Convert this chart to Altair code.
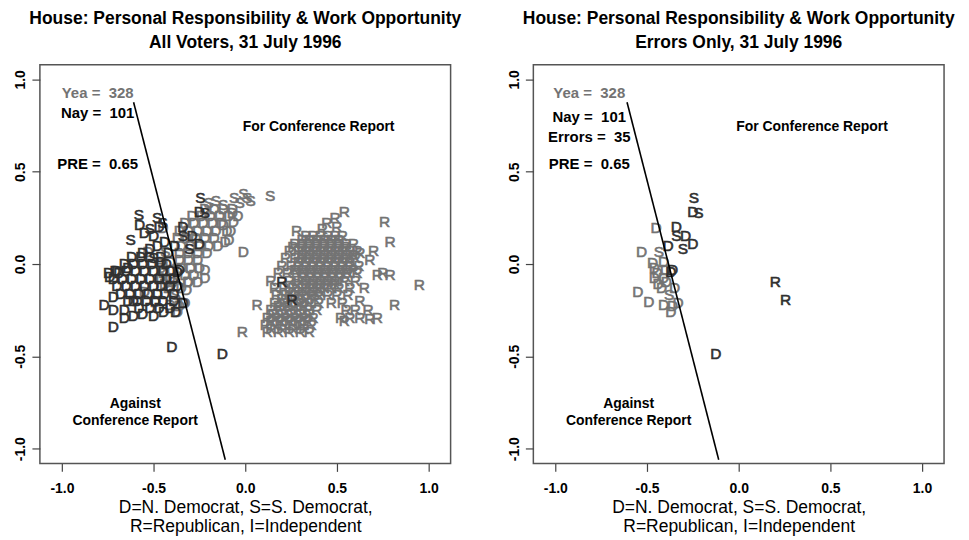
import altair as alt
import pandas as pd

FONT = "Liberation Sans"
GRAY = "#737373"
DARK = "#303030"

TITLE_LINE1 = "House: Personal Responsibility & Work Opportunity"
LEFT_SUB = "All Voters, 31 July 1996"
RIGHT_SUB = "Errors Only, 31 July 1996"
X_TITLE = ["D=N. Democrat, S=S. Democrat,", "R=Republican, I=Independent"]
TICKS = [-1.0, -0.5, 0.0, 0.5, 1.0]
X_DOMAIN = [-1.12, 1.12]
Y_DOMAIN = [-1.08, 1.08]

# cutting line end points
CUT_X = [-0.609, -0.109]
CUT_Y = [0.876, -1.06]

# ---- errors (shown in both panels) ----
ERR_REP_NAY = [(0.20, -0.10), (0.255, -0.195)]
ERR_DEM_NAY = [(-0.25, 0.28), (-0.34, 0.20), (-0.29, 0.15), (-0.25, 0.11), (-0.385, 0.10),
               (-0.37, -0.045), (-0.36, -0.035), (-0.125, -0.49)]
ERR_SDEM_NAY = [(-0.245, 0.36), (-0.22, 0.275), (-0.34, 0.15), (-0.305, 0.08)]
ERR_DEM_YEA = [(-0.45, 0.195), (-0.53, 0.065), (-0.47, 0.005), (-0.41, 0.01), (-0.46, -0.075),
               (-0.41, -0.075), (-0.42, -0.13), (-0.55, -0.15), (-0.49, -0.205), (-0.41, -0.22),
               (-0.37, -0.26), (-0.33, -0.21), (-0.44, -0.11), (-0.46, -0.02), (-0.40, -0.03),
               (-0.445, -0.05), (-0.395, -0.10), (-0.36, -0.23), (-0.35, -0.13)]
ERR_SDEM_YEA = [(-0.435, 0.065), (-0.38, -0.17)]

# ---- correctly classified voters (left panel only) ----
DEM_NAY = [(-0.576, 0.21), (-0.55, 0.17), (-0.50, 0.15), (-0.47, 0.20), (-0.48, 0.10),
           (-0.52, 0.08), (-0.44, 0.12), (-0.56, 0.06), (-0.42, 0.06), (-0.46, 0.01),
           (-0.745, -0.05), (-0.69, -0.05), (-0.64, -0.02), (-0.77, -0.22), (-0.72, -0.25),
           (-0.66, -0.25), (-0.61, -0.28), (-0.72, -0.34), (-0.61, -0.20), (-0.445, -0.26),
           (-0.38, -0.26), (-0.34, -0.21), (-0.40, -0.45), (-0.74, -0.07), (-0.71, -0.04),
           (-0.72, -0.18), (-0.66, -0.29), (-0.56, -0.27), (-0.50, -0.28)]
DEM_NAY_ROWS = [
    (0.04, [-0.62, -0.57, -0.52, -0.46]),
    (0.00, [-0.66, -0.61, -0.56, -0.51, -0.43]),
    (-0.04, [-0.70, -0.65, -0.60, -0.55, -0.50, -0.45, -0.41]),
    (-0.08, [-0.72, -0.67, -0.62, -0.57, -0.52, -0.47, -0.43, -0.39]),
    (-0.12, [-0.70, -0.65, -0.60, -0.55, -0.50, -0.46, -0.41, -0.37]),
    (-0.16, [-0.68, -0.63, -0.58, -0.53, -0.48, -0.44, -0.39]),
    (-0.20, [-0.64, -0.59, -0.54, -0.49, -0.45, -0.39]),
    (-0.24, [-0.58, -0.52, -0.47, -0.41]),
]
SDEM_NAY = [(-0.58, 0.265), (-0.48, 0.25), (-0.625, 0.13), (-0.52, 0.19), (-0.45, 0.22),
            (-0.50, 0.03)]

DEM_YEA = [(-0.065, 0.23), (-0.11, 0.12), (-0.22, -0.075), (-0.315, -0.10), (-0.01, 0.065),
           (-0.09, 0.13), (-0.07, 0.275), (-0.22, -0.03), (-0.12, 0.21), (-0.08, 0.18)]
DEM_YEA_ROWS = [
    (0.30, [-0.22, -0.17, -0.12, -0.07]),
    (0.26, [-0.29, -0.24, -0.19, -0.14, -0.09, -0.04]),
    (0.22, [-0.33, -0.28, -0.23, -0.18, -0.13]),
    (0.18, [-0.36, -0.31, -0.26, -0.21, -0.16, -0.10]),
    (0.14, [-0.37, -0.32, -0.27, -0.22, -0.17]),
    (0.10, [-0.35, -0.30, -0.25, -0.20, -0.15]),
    (0.06, [-0.36, -0.31, -0.26, -0.21]),
    (0.02, [-0.36, -0.31, -0.26]),
    (-0.02, [-0.35, -0.30, -0.25]),
    (-0.06, [-0.33, -0.28]),
    (-0.10, [-0.31, -0.26]),
    (-0.14, [-0.32]),
]
SDEM_YEA = [(-0.16, 0.34), (-0.01, 0.38), (0.01, 0.36), (0.03, 0.34), (-0.03, 0.33),
            (0.136, 0.37), (-0.20, 0.33), (-0.06, 0.36), (-0.12, 0.32)]

REP_YEA = [(0.54, 0.28), (0.49, 0.25), (0.445, 0.22), (0.28, 0.18), (0.76, 0.23), (0.79, 0.12),
           (0.70, 0.07), (0.26, 0.09), (0.95, -0.115), (0.815, -0.22), (0.72, -0.06),
           (0.75, -0.05), (0.79, -0.06), (0.065, -0.22), (-0.016, -0.37), (0.54, -0.31),
           (0.625, -0.29), (0.68, -0.30), (0.72, -0.29), (0.68, 0.02), (0.625, 0.06),
           (0.65, -0.13), (0.625, -0.20), (0.67, -0.25), (0.50, 0.20), (0.42, 0.19)]
REP_YEA_ROWS = [
    (0.15, [0.33, 0.37, 0.41, 0.45, 0.49, 0.53]),
    (0.11, [0.27, 0.31, 0.35, 0.39, 0.43, 0.47, 0.51, 0.55, 0.59]),
    (0.07, [0.24, 0.29, 0.33, 0.37, 0.41, 0.45, 0.49, 0.53, 0.57, 0.61]),
    (0.03, [0.22, 0.27, 0.31, 0.35, 0.39, 0.43, 0.47, 0.51, 0.55, 0.60]),
    (-0.01, [0.20, 0.25, 0.29, 0.33, 0.37, 0.41, 0.45, 0.49, 0.53, 0.57, 0.62]),
    (-0.05, [0.18, 0.23, 0.28, 0.32, 0.36, 0.40, 0.44, 0.48, 0.52, 0.56, 0.61]),
    (-0.09, [0.14, 0.24, 0.29, 0.33, 0.37, 0.41, 0.45, 0.49, 0.54, 0.60]),
    (-0.13, [0.16, 0.21, 0.26, 0.31, 0.35, 0.39, 0.43, 0.47, 0.51, 0.57]),
    (-0.17, [0.17, 0.22, 0.27, 0.31, 0.36, 0.40, 0.45, 0.50, 0.56]),
    (-0.21, [0.16, 0.21, 0.30, 0.35, 0.40, 0.47, 0.53]),
    (-0.25, [0.14, 0.19, 0.24, 0.29, 0.34, 0.39, 0.55, 0.60]),
    (-0.29, [0.12, 0.17, 0.22, 0.27, 0.32, 0.37, 0.52, 0.57]),
    (-0.33, [0.11, 0.16, 0.21, 0.26, 0.31, 0.36]),
    (-0.37, [0.12, 0.18, 0.24, 0.30, 0.35]),
    (0.13, [0.31, 0.35, 0.39, 0.43, 0.47, 0.51]),
    (0.09, [0.31, 0.35, 0.39, 0.43, 0.47, 0.51, 0.55]),
    (0.05, [0.31, 0.35, 0.39, 0.43, 0.47, 0.51, 0.55, 0.59]),
    (0.01, [0.29, 0.33, 0.37, 0.41, 0.45, 0.49, 0.53, 0.57]),
    (-0.03, [0.27, 0.31, 0.35, 0.39, 0.43, 0.47, 0.51, 0.55, 0.59]),
    (-0.07, [0.31, 0.35, 0.39, 0.43, 0.47, 0.51, 0.55]),
    (-0.11, [0.28, 0.33, 0.37, 0.41, 0.45, 0.49]),
    (-0.15, [0.24, 0.29, 0.33, 0.37, 0.41]),
    (-0.19, [0.20, 0.25, 0.29, 0.33, 0.38]),
    (-0.23, [0.18, 0.23, 0.27, 0.32]),
    (-0.27, [0.15, 0.20, 0.25, 0.30, 0.35]),
    (-0.31, [0.14, 0.19, 0.24, 0.29, 0.34]),
    (-0.35, [0.14, 0.20, 0.26, 0.32]),
]

# annotation texts: (text, x, y, colour, size)
LEFT_NOTES = [("Yea =\u00a0\u00a0328", -0.805, 0.924, GRAY, 15),
              ("Nay =\u00a0\u00a0101", -0.805, 0.816, "black", 15),
              ("PRE =\u00a0\u00a00.65", -0.805, 0.54, "black", 15),
              ("For Conference Report", 0.40, 0.74, "black", 14),
              ("Against", -0.60, -0.76, "black", 14),
              ("Conference Report", -0.60, -0.85, "black", 14)]
RIGHT_NOTES = [("Yea =\u00a0\u00a0328", -0.815, 0.924, GRAY, 15),
               ("Nay =\u00a0\u00a0101", -0.815, 0.795, "black", 15),
               ("Errors =\u00a0\u00a035", -0.815, 0.69, "black", 15),
               ("PRE =\u00a0\u00a00.65", -0.815, 0.54, "black", 15),
               ("For Conference Report", 0.40, 0.74, "black", 14),
               ("Against", -0.60, -0.76, "black", 14),
               ("Conference Report", -0.60, -0.85, "black", 14)]


def expand(rows):
    return [(x, y) for y, xs in rows for x in xs]


def points_frame(groups):
    recs = []
    for letter, vote, pts in groups:
        for x, y in pts:
            recs.append({"x": x, "y": y, "letter": letter, "vote": vote})
    return pd.DataFrame(recs)


left_df = points_frame([
    ("R", "Yea", REP_YEA + expand(REP_YEA_ROWS)),
    ("D", "Yea", DEM_YEA + expand(DEM_YEA_ROWS)),
    ("S", "Yea", SDEM_YEA),
    ("D", "Yea", ERR_DEM_YEA),
    ("S", "Yea", ERR_SDEM_YEA),
    ("D", "Nay", DEM_NAY + expand(DEM_NAY_ROWS)),
    ("S", "Nay", SDEM_NAY),
    ("D", "Nay", ERR_DEM_NAY),
    ("S", "Nay", ERR_SDEM_NAY),
    ("R", "Nay", ERR_REP_NAY),
])
right_df = points_frame([
    ("D", "Yea", ERR_DEM_YEA),
    ("S", "Yea", ERR_SDEM_YEA),
    ("D", "Nay", ERR_DEM_NAY),
    ("S", "Nay", ERR_SDEM_NAY),
    ("R", "Nay", ERR_REP_NAY),
])
line_df = pd.DataFrame({"x": CUT_X, "y": CUT_Y, "o": [0, 1]})

LABEL_EXPR = "replace(format(datum.value, '.1f'), '\u2212', '-')"
xscale = alt.Scale(domain=X_DOMAIN, nice=False, zero=False)
yscale = alt.Scale(domain=Y_DOMAIN, nice=False, zero=False)
vote_scale = alt.Scale(domain=["Yea", "Nay"], range=[GRAY, DARK])
xaxis = alt.Axis(values=TICKS, labelExpr=LABEL_EXPR, tickSize=8, tickColor="#444",
                 tickWidth=1.2, domain=False, grid=False, labelFont=FONT, labelFontSize=14,
                 labelFontWeight="bold", labelColor="black", labelPadding=10,
                 title=X_TITLE, titleFont=FONT, titleFontSize=17.5, titleFontWeight="normal",
                 titleColor="black", titleLineHeight=19, titlePadding=3)
yaxis = alt.Axis(values=TICKS, labelExpr=LABEL_EXPR, tickSize=8, tickColor="#444",
                 tickWidth=1.2, domain=False, grid=False, labelFont=FONT, labelFontSize=14,
                 labelFontWeight="bold", labelColor="black", labelAngle=-90,
                 labelAlign="center", labelBaseline="bottom", labelPadding=4, title=None)


def panel(df, notes, subtitle):
    notes_df = pd.DataFrame(notes, columns=["text", "x", "y", "color", "size"])
    X = alt.X("x:Q", scale=xscale, axis=xaxis)
    Y = alt.Y("y:Q", scale=yscale, axis=yaxis)
    pts = alt.Chart(df).mark_text(font=FONT, fontSize=15.5, align="center",
                                  baseline="middle", strokeWidth=0.6).encode(
        x=X, y=Y, text="letter:N",
        color=alt.Color("vote:N", scale=vote_scale, legend=None),
        stroke=alt.Stroke("vote:N", scale=vote_scale, legend=None))
    line = alt.Chart(line_df).mark_line(color="black", strokeWidth=1.6).encode(
        x=X, y=Y, order="o:Q")
    txt = alt.Chart(notes_df).mark_text(font=FONT, fontWeight="bold", align="center",
                                        baseline="middle").encode(
        x=X, y=Y, text="text:N",
        color=alt.Color("color:N", scale=None),
        size=alt.Size("size:Q", scale=None))
    return alt.layer(pts, line, txt).properties(
        width=412, height=400,
        title=alt.TitleParams(text=[TITLE_LINE1, subtitle], font=FONT, fontSize=17.5,
                              fontWeight="bold", color="black", lineHeight=24,
                              anchor="middle", offset=13))


chart = alt.hconcat(
    panel(left_df, LEFT_NOTES, LEFT_SUB),
    panel(right_df, RIGHT_NOTES, RIGHT_SUB),
    spacing=83, bounds="flush",
).properties(
    padding={"left": 5, "top": 0, "right": 5, "bottom": 0},
    background="white",
).configure_view(stroke="#555555", strokeWidth=1.5)

chart.save("out.html", embed_options={"renderer": "svg", "actions": False})
